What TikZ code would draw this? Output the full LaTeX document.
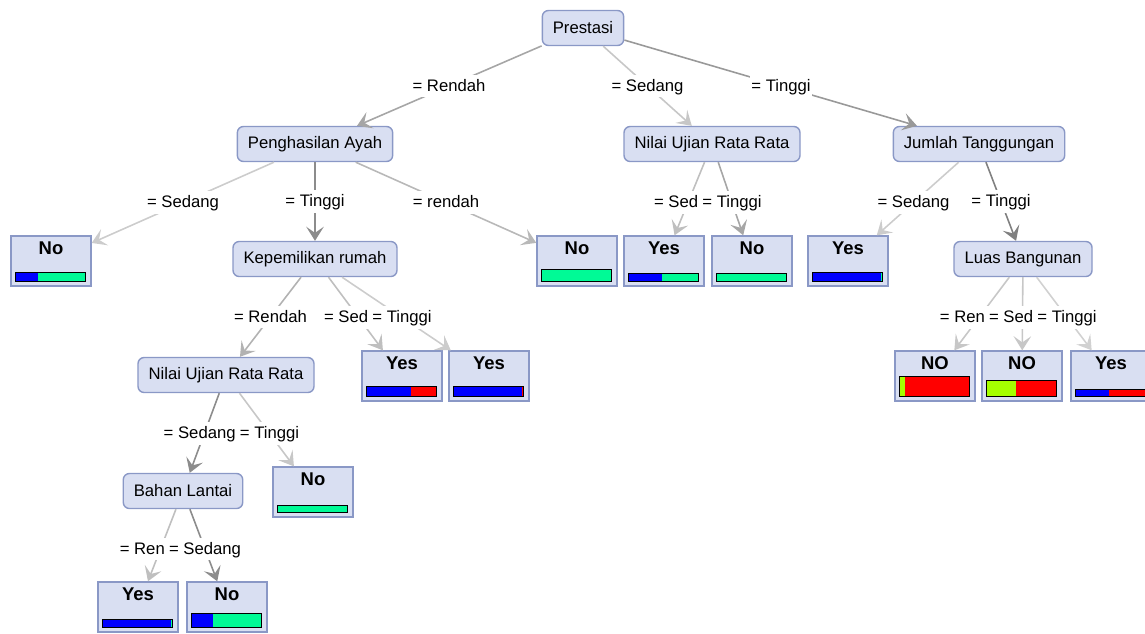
\documentclass[tikz,border=0pt]{standalone}
\usepackage{fontspec}
\setmainfont{Liberation Sans}
\usetikzlibrary{calc,arrows.meta}

\definecolor{boxfill}{RGB}{217,223,242}
\definecolor{boxline}{RGB}{138,152,198}
\definecolor{clsblue}{RGB}{0,0,255}
\definecolor{clsgreen}{RGB}{0,250,150}
\definecolor{clsred}{RGB}{255,0,0}
\definecolor{clslime}{RGB}{165,255,0}

\tikzset{
	attr/.style={draw=boxline, fill=boxfill, rounded corners=3.5pt, line width=0.8pt, minimum height=0.7cm, inner xsep=6pt, font=\fontsize{9.5}{11}\selectfont},
	leaf/.style={draw=boxline, fill=boxfill, line width=0.8pt, minimum width=1.6cm, minimum height=1cm, inner sep=0pt, label={[anchor=north, inner sep=3.5pt, font=\fontsize{10.5}{12}\selectfont\bfseries]north:#1}},
	branch/.style={draw=black!#1, line width=0.9pt, -{Stealth[length=8pt, width=10pt, inset=3.5pt, fill=black!#1]}},
	cond/.style={fill=white, inner sep=1pt, text height=1.6ex, text depth=0.45ex, font=\fontsize{9.5}{11}\selectfont},
}

% node, share of the left colour, left colour, right colour, bar height
\newcommand{\classbar}[5]{
	\fill[#3] ($(#1.south west)+(5,-5)$) rectangle ($(#1.south west)+(5+69*#2,-5-#5)$);
	\fill[#4] ($(#1.south west)+(5+69*#2,-5)$) rectangle ($(#1.south east)+(-6,-5-#5)$);
	\draw[line width=0.8pt] ($(#1.south west)+(5,-5)$) rectangle ($(#1.south east)+(-6,-5-#5)$);
}

\begin{document}
\begin{tikzpicture}[x=0.02cm, y=-0.02cm]
	\useasboundingbox (0,0) rectangle (1145,633);
	
	%%%%% attribute nodes %%%%%
	\node[attr] (prestasi) at (583,28) {Prestasi};
	\node[attr] (ayah) at (315,144) {Penghasilan Ayah};
	\node[attr] (ujian) at (712,144) {Nilai Ujian Rata Rata};
	\node[attr] (tanggungan) at (979,144) {Jumlah Tanggungan};
	\node[attr] (rumah) at (315,259) {Kepemilikan rumah};
	\node[attr] (bangunan) at (1023,259) {Luas Bangunan};
	\node[attr] (ujianB) at (226,375) {Nilai Ujian Rata Rata};
	\node[attr] (lantai) at (183,491) {Bahan Lantai};
	
	%%%%% leaves %%%%%
	\node[leaf=No] (noA) at (51,261) {};
	\node[leaf=No] (noB) at (577,261) {};
	\node[leaf=Yes] (yesA) at (664,261) {};
	\node[leaf=No] (noC) at (752,261) {};
	\node[leaf=Yes] (yesB) at (848,261) {};
	\node[leaf=Yes] (yesC) at (402,376) {};
	\node[leaf=Yes] (yesD) at (489,376) {};
	\node[leaf=NO] (noF) at (935,376) {};
	\node[leaf=NO] (noG) at (1022,376) {};
	\node[leaf=Yes] (yesF) at (1111,376) {};
	\node[leaf=No] (noD) at (313,492) {};
	\node[leaf=Yes] (yesE) at (138,607) {};
	\node[leaf=No] (noE) at (227,607) {};
	
	\classbar{noA}{0.33}{clsblue}{clsgreen}{9}
	\classbar{noB}{0}{clsblue}{clsgreen}{12}
	\classbar{yesA}{0.485}{clsblue}{clsgreen}{8}
	\classbar{noC}{0}{clsblue}{clsgreen}{8}
	\classbar{yesB}{1}{clsblue}{clsgreen}{9}
	\classbar{yesC}{0.65}{clsblue}{clsred}{10}
	\classbar{yesD}{1}{clsblue}{clsred}{10}
	\classbar{noF}{0.087}{clslime}{clsred}{20}
	\classbar{noG}{0.43}{clslime}{clsred}{16}
	\classbar{yesF}{0.49}{clsblue}{clsred}{7}
	\classbar{noD}{0}{clsblue}{clsgreen}{7}
	\classbar{yesE}{1}{clsblue}{clsgreen}{8}
	\classbar{noE}{0.32}{clsblue}{clsgreen}{14}
	
	%%%%% branches %%%%%
	\draw[branch=35] (prestasi) -- (ayah);
	\draw[branch=22] (prestasi) -- (ujian);
	\draw[branch=40] (prestasi) -- (tanggungan);
	\draw[branch=20] (ayah) -- (noA);
	\draw[branch=45] (ayah) -- (rumah);
	\draw[branch=28] (ayah) -- (noB);
	\draw[branch=25] (ujian) -- (yesA);
	\draw[branch=35] (ujian) -- (noC);
	\draw[branch=20] (tanggungan) -- (yesB);
	\draw[branch=50] (tanggungan) -- (bangunan);
	\draw[branch=30] (rumah) -- (ujianB);
	\draw[branch=25] (rumah) -- (yesC);
	\draw[branch=20] (rumah) -- (yesD);
	\draw[branch=22] (bangunan) -- (noF);
	\draw[branch=22] (bangunan) -- (noG);
	\draw[branch=18] (bangunan) -- (yesF);
	\draw[branch=45] (ujianB) -- (lantai);
	\draw[branch=22] (ujianB) -- (noD);
	\draw[branch=25] (lantai) -- (yesE);
	\draw[branch=45] (lantai) -- (noE);
	
	%%%%% branch conditions %%%%%
	\node[cond] (c1) at ($(prestasi)!.5!(ayah)$) {= Rendah};
	\node[cond] (c2) at ($(prestasi)!.5!(ujian)$) {= Sedang};
	\node[cond] (c3) at ($(prestasi)!.5!(tanggungan)$) {= Tinggi};
	\node[cond] (c4) at ($(ayah)!.5!(noA)$) {= Sedang};
	\node[cond] (c5) at ($(ayah)!.5!(rumah)$) {= Tinggi};
	\node[cond] (c6) at ($(ayah)!.5!(noB)$) {= rendah};
	\node[cond] (c8) at ($(ujian)!.5!(noC)$) {= Tinggi};
	\node[cond, anchor=east] (c7) at (c8.west) {= Sed};
	\node[cond] (c9) at ($(tanggungan)!.5!(yesB)$) {= Sedang};
	\node[cond] (c10) at ($(tanggungan)!.5!(bangunan)$) {= Tinggi};
	\node[cond] (c11) at ($(rumah)!.5!(ujianB)$) {= Rendah};
	\node[cond] (c13) at ($(rumah)!.5!(yesD)$) {= Tinggi};
	\node[cond, anchor=east] (c12) at (c13.west) {= Sed};
	\node[cond] (c16) at ($(bangunan)!.5!(yesF)$) {= Tinggi};
	\node[cond, anchor=east] (c15) at (c16.west) {= Sed};
	\node[cond, anchor=east] (c14) at (c15.west) {= Ren};
	\node[cond] (c18) at ($(ujianB)!.5!(noD)$) {= Tinggi};
	\node[cond, anchor=east] (c17) at (c18.west) {= Sedang};
	\node[cond] (c20) at ($(lantai)!.5!(noE)$) {= Sedang};
	\node[cond, anchor=east] (c19) at (c20.west) {= Ren};
\end{tikzpicture}
\end{document}
